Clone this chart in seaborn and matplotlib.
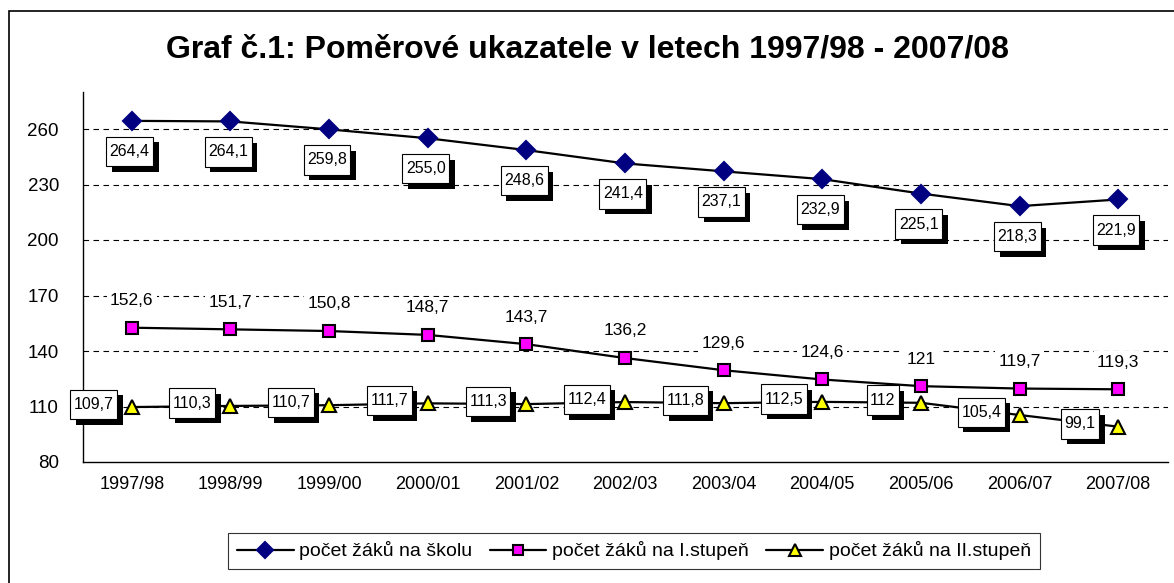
import pandas as pd
import matplotlib
matplotlib.use("Agg")
import matplotlib.pyplot as plt
import matplotlib.patheffects as pe
import matplotlib.ticker as ticker
from matplotlib.path import Path
import seaborn as sns

# data
years = ["1997/98", "1998/99", "1999/00", "2000/01", "2001/02", "2002/03",
         "2003/04", "2004/05", "2005/06", "2006/07", "2007/08"]
zaku_na_skolu = [264.4, 264.1, 259.8, 255.0, 248.6, 241.4, 237.1, 232.9, 225.1, 218.3, 221.9]
zaku_na_1st = [152.6, 151.7, 150.8, 148.7, 143.7, 136.2, 129.6, 124.6, 121.0, 119.7, 119.3]
zaku_na_2st = [109.7, 110.3, 110.7, 111.7, 111.3, 112.4, 111.8, 112.5, 112.0, 105.4, 99.1]
labels_skola = ["264,4", "264,1", "259,8", "255,0", "248,6", "241,4", "237,1", "232,9", "225,1", "218,3", "221,9"]
labels_1st = ["152,6", "151,7", "150,8", "148,7", "143,7", "136,2", "129,6", "124,6", "121", "119,7", "119,3"]
labels_2st = ["109,7", "110,3", "110,7", "111,7", "111,3", "112,4", "111,8", "112,5", "112", "105,4", "99,1"]
series_names = ["počet žáků na školu", "počet žáků na I.stupeň", "počet žáků na II.stupeň"]

sns.set_style("white")
plt.rcParams["font.family"] = ["Liberation Sans", "DejaVu Sans"]
plt.rcParams.update({"text.color": "black", "axes.labelcolor": "black",
                     "xtick.color": "black", "ytick.color": "black"})


def label_box(x0, y0, width, height, mutation_size):
    # excel-like label box: narrow side padding, taller top/bottom padding
    px, py = 0.22 * mutation_size, 0.45 * mutation_size
    x0, y0, x1, y1 = x0 - px, y0 - py, x0 + width + px, y0 + height + py
    return Path([(x0, y0), (x1, y0), (x1, y1), (x0, y1), (x0, y0)], closed=True)


df = pd.DataFrame({"rok": years, "skola": zaku_na_skolu,
                   "st1": zaku_na_1st, "st2": zaku_na_2st})
df["pos"] = range(len(years))

fig = plt.figure(figsize=(11.74, 5.83), dpi=100)
ax = fig.add_axes([82.5 / 1174, 1 - 462 / 583, (1167.5 - 82.5) / 1174, (462 - 92) / 583])

styles = [
    ("skola", "D", "#000080", "#000080", 9),
    ("st1", "s", "#FF00FF", "black", 8.5),
    ("st2", "^", "#FFFF00", "black", 9.5),
]
for (col, mk, fc, ec, ms), name in zip(styles, series_names):
    sns.lineplot(data=df, x="pos", y=col, ax=ax, color="black", linewidth=1.6,
                 marker=mk, markersize=ms, markerfacecolor=fc, markeredgecolor=ec,
                 markeredgewidth=1.5, label=name, sort=False, zorder=3)

ax.set_xlim(-0.5, len(years) - 0.5)
ax.set_ylim(80, 280)
ax.yaxis.set_major_locator(ticker.FixedLocator([80, 110, 140, 170, 200, 230, 260]))
ax.set_xticks(df["pos"])
ax.set_xticklabels(years, fontsize=13)
ax.xaxis.set_minor_locator(ticker.FixedLocator([i - 0.5 for i in range(len(years) + 1)]))
ax.tick_params(axis="x", which="major", length=0, pad=10)
ax.tick_params(axis="x", which="minor", length=7, width=1, color="black", direction="out")
ax.tick_params(axis="y", length=7, width=1, color="black", direction="out", labelsize=13.5, pad=10)
for y in [110, 140, 170, 200, 230, 260]:
    ax.axhline(y, color="black", linestyle=(0, (5, 4)), linewidth=0.8, zorder=1)
ax.set_xlabel("")
ax.set_ylabel("")
for s in ["top", "right"]:
    ax.spines[s].set_visible(False)
for s in ["left", "bottom"]:
    ax.spines[s].set_color("black")
    ax.spines[s].set_linewidth(1)

shadow = [pe.SimplePatchShadow(offset=(4, -4), shadow_rgbFace="black", alpha=1), pe.Normal()]
box = dict(boxstyle=label_box, facecolor="white", edgecolor="black", linewidth=0.8)

for i, (v, t) in enumerate(zip(zaku_na_skolu, labels_skola)):
    a = ax.annotate(t, (i, v), xytext=(-1.5, -22), textcoords="offset points",
                    ha="center", va="center", fontsize=11.5, bbox=box, zorder=5)
    a.get_bbox_patch().set_path_effects(shadow)
for i, (v, t) in enumerate(zip(zaku_na_1st, labels_1st)):
    ax.annotate(t, (i, v), xytext=(0, 19.5), textcoords="offset points",
                ha="center", va="center", fontsize=12.5, zorder=5,
                bbox=dict(boxstyle="square,pad=0.2", facecolor="white", edgecolor="none"))
for i, (v, t) in enumerate(zip(zaku_na_2st, labels_2st)):
    a = ax.annotate(t, (i, v), xytext=(-27.5, 2), textcoords="offset points",
                    ha="center", va="center", fontsize=11.5, bbox=box, zorder=5)
    a.get_bbox_patch().set_path_effects(shadow)

fig.text(0.5, 1 - 50 / 583, "Graf č.1: Poměrové ukazatele v letech 1997/98 - 2007/08",
         ha="center", va="center", fontsize=23, fontweight="bold")

ax.get_legend().remove()
handles, lbls = ax.get_legend_handles_labels()
leg = fig.legend(handles, lbls, loc="center", bbox_to_anchor=(634 / 1174, 1 - 551 / 583),
                 ncol=3, frameon=True, fancybox=False, fontsize=14, handlelength=2.9,
                 handletextpad=0.3, columnspacing=0.9, borderpad=0.45, markerscale=0.9)
leg.get_frame().set_edgecolor("black")
leg.get_frame().set_linewidth(0.8)

# outer chart border
fig.patches.append(plt.Rectangle((8.5 / 1174, -0.01), 1.02, 1 - 11 / 583 + 0.01,
                                 transform=fig.transFigure, fill=False,
                                 edgecolor="black", linewidth=1.2))

fig.savefig("out.png", dpi=100)
